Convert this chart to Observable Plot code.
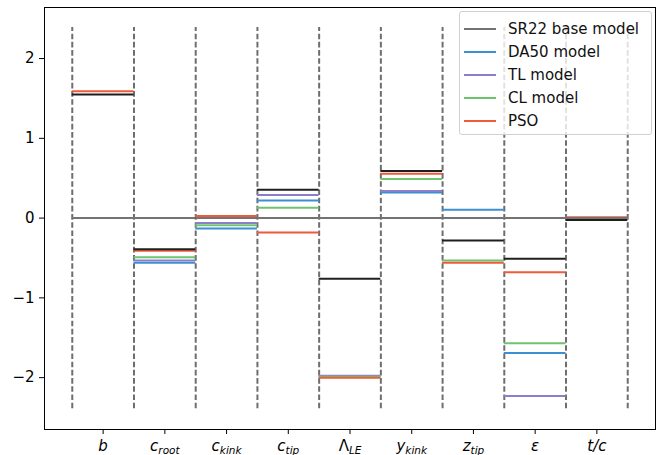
<!DOCTYPE html>
<html>
<head>
<meta charset="utf-8">
<script src="https://cdn.jsdelivr.net/npm/d3@7"></script>
<script src="https://cdn.jsdelivr.net/npm/@observablehq/plot@0.6"></script>
<style>
  html, body { margin: 0; padding: 0; background: #fff; }
  #wrap { position: relative; width: 665px; height: 455px; font-family: "DejaVu Sans", sans-serif; }
  .legend {
    position: absolute; left: 459px; top: 11px; width: 193px; height: 124px;
    box-sizing: border-box; background: rgba(255,255,255,0.8);
    border: 1px solid #d0d0d0; border-radius: 3px; padding: 5px 0 0 4px;
  }
  .legend .row { display: flex; align-items: center; height: 23.1px; font-size: 15px; color: #111; white-space: nowrap; }
  .legend .sw { width: 32px; height: 0; border-top: 2px solid; margin-right: 12px; }
</style>
</head>
<body>
<div id="wrap"></div>
<script>
// Design variables (x axis), written as base_subscript
const categories = ["b", "c_root", "c_kink", "c_tip", "Λ_LE", "y_kink", "z_tip", "ε", "t/c"];
const yTicks = [-2, -1, 0, 1, 2];

// Normalised change of each design variable per model
const sr22 = [0, 0, 0, 0, 0, 0, 0, 0, 0];
const da50 = [0, -0.56, -0.13, 0.22, -1.98, 0.32, 0.105, -1.69, 0];
const tl   = [0, -0.53, -0.06, 0.29, -1.975, 0.34, 0, -2.23, -0.02];
const cl   = [0, -0.49, -0.09, 0.13, -1.99, 0.49, -0.53, -1.57, 0];
const pso  = [1.59, -0.41, 0.025, -0.18, -2.0, 0.555, -0.56, -0.68, 0.01];
// series drawn in black, not listed in the legend
const blackSeries = [1.55, -0.39, 0.0, 0.355, -0.76, 0.59, -0.28, -0.51, -0.025];

const seriesNames = ["SR22 base model", "DA50 model", "TL model", "CL model", "PSO"];
const seriesColors = ["#737373", "#3d8fd2", "#8a80c9", "#6ec46e", "#ee5b3c"];

// drawing order: coloured models, black series, then the SR22 zero baseline on top
const layers = [
  {name: "DA50 model", values: da50, color: seriesColors[1]},
  {name: "TL model", values: tl, color: seriesColors[2]},
  {name: "CL model", values: cl, color: seriesColors[3]},
  {name: "PSO", values: pso, color: seriesColors[4]},
  {name: "black", values: blackSeries, color: "#1f1f1f"},
  {name: "SR22 base model", values: sr22, color: seriesColors[0]}
];

const rows = layers.flatMap((s, li) =>
  s.values.map((v, i) => ({pos: i + 1, value: v, color: s.color, layer: li})));

const boundaries = d3.range(categories.length + 1).map(i => i + 0.5);
const guideExtent = 2.39;

const plot = Plot.plot({
  width: 665,
  height: 455,
  marginLeft: 44,
  marginRight: 10,
  marginTop: 7,
  marginBottom: 26,
  style: {fontFamily: "DejaVu Sans, sans-serif", fontSize: "15px", color: "#000", background: "#fff"},
  x: {domain: [0.05, 9.95]},
  y: {domain: [-2.65, 2.64]},
  marks: [
    Plot.ruleX(boundaries, {x: d => d, y1: -guideExtent, y2: guideExtent,
      stroke: "#6e6e6e", strokeWidth: 2, strokeDasharray: "5.6,2.6"}),
    Plot.ruleY(rows, {y: "value", x1: d => d.pos - 0.5, x2: d => d.pos + 0.5,
      stroke: d => d.color, strokeWidth: 2}),
    Plot.frame({stroke: "#000", strokeWidth: 1}),
    Plot.axisY({ticks: yTicks, tickSize: 5, tickPadding: 5, label: null, tickFormat: d => d3.format("d")(d).replace("-", "−")}),
    Plot.axisX({ticks: d3.range(1, categories.length + 1), tickSize: 5, tickPadding: 6, label: null,
      tickFormat: d => categories[d - 1]})
  ]
});

// Render subscripts in the category labels
d3.select(plot).selectAll('g[aria-label="x-axis tick label"] text').each(function() {
  const label = this.textContent;
  const [base, sub] = label.split("_");
  const t = d3.select(this);
  t.text(null);
  t.append("tspan").attr("font-style", base === "Λ" ? "normal" : "italic").text(base);
  if (sub) {
    t.append("tspan").attr("font-style", "italic").attr("font-size", "10.5px").attr("dy", "0.3em").text(sub);
  }
});

const wrap = document.getElementById("wrap");
wrap.appendChild(plot);

// Legend
const legend = document.createElement("div");
legend.className = "legend";
seriesNames.forEach((name, i) => {
  const row = document.createElement("div");
  row.className = "row";
  const sw = document.createElement("span");
  sw.className = "sw";
  sw.style.borderColor = seriesColors[i];
  const lab = document.createElement("span");
  lab.textContent = name;
  row.appendChild(sw);
  row.appendChild(lab);
  legend.appendChild(row);
});
wrap.appendChild(legend);
</script>
</body>
</html>
